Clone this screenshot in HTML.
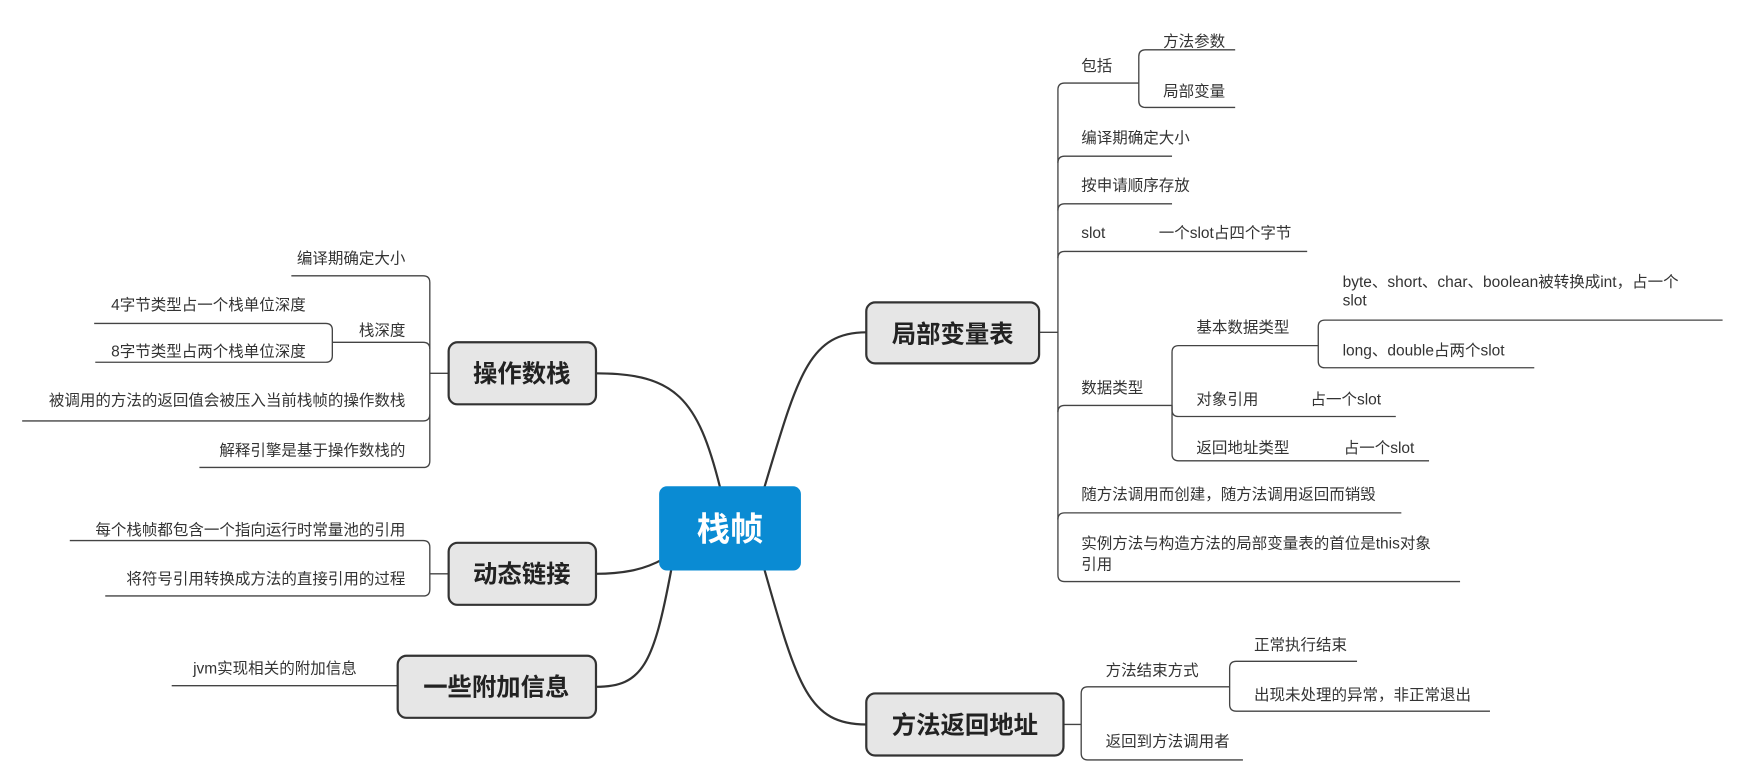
<!DOCTYPE html>
<html><head><meta charset="utf-8"><style>
html,body{margin:0;padding:0;background:#fff;}
svg{display:block;}
svg text{font-family:"Liberation Sans","Noto Sans CJK SC",sans-serif;font-size:14px;fill:#333;}
.t{font-size:22px;font-weight:bold;fill:#222;}
</style></head><body>
<svg width="1737" height="768" viewBox="0 0 1568 693.3" preserveAspectRatio="none" xmlns="http://www.w3.org/2000/svg">
<g fill="none" stroke="#333" stroke-width="2">
<path d="M690 440 C720 340,730 300,782 300"/>
<path d="M690 514 C720 620,730 654,782 654"/>
<path d="M650 440 C630 360,610 337,538 337"/>
<path d="M598 505 C580 515,560 518,538 518"/>
<path d="M606 514 C590 600,580 620,538 620"/>
</g>
<g fill="none" stroke="#444" stroke-width="1.2">
<path d="M938 300 H955"/>
<path d="M1028 75 H961 Q955 75 955 81 V519 Q955 525 961 525 H1318"/>
<path d="M955 147 Q955 141 961 141 H1058"/>
<path d="M955 190 Q955 184 961 184 H1058"/>
<path d="M955 233 Q955 227 961 227 H1180"/>
<path d="M955 372 Q955 366 961 366 H1058"/>
<path d="M955 469 Q955 463 961 463 H1265"/>
<path d="M1115 45 H1034 Q1028 45 1028 51 V91 Q1028 97 1034 97 H1115"/>
<path d="M1190 312 H1064 Q1058 312 1058 318 V410 Q1058 416 1064 416 H1290"/>
<path d="M1058 366 V370 Q1058 376 1064 376 H1260"/>
<path d="M1555 289 H1196 Q1190 289 1190 295 V326 Q1190 332 1196 332 H1385"/>
<path d="M960 654 H976"/>
<path d="M1110 620 H982 Q976 620 976 626 V680 Q976 686 982 686 H1122"/>
<path d="M1225 597 H1116 Q1110 597 1110 603 V636 Q1110 642 1116 642 H1345"/>
<path d="M405 337 H388"/>
<path d="M263 249 H382 Q388 249 388 255 V416 Q388 422 382 422 H180"/>
<path d="M300 309 H382 Q388 309 388 315"/>
<path d="M20 380 H382 Q388 380 388 374"/>
<path d="M85 292 H294 Q300 292 300 298 V321 Q300 327 294 327 H86"/>
<path d="M405 518 H388"/>
<path d="M63 488 H382 Q388 488 388 494 V532 Q388 538 382 538 H95"/>
<path d="M359 619 H155"/>
</g>
<g stroke="#333" stroke-width="2">
<rect x="596" y="440" width="126" height="74" rx="6" fill="#0a8bd3" stroke="#0a8bd3"/>
<rect x="782" y="273" width="156" height="55" rx="8" fill="#e6e6e6"/>
<rect x="782" y="626" width="178" height="56" rx="8" fill="#e6e6e6"/>
<rect x="405" y="309" width="133" height="56" rx="8" fill="#e6e6e6"/>
<rect x="405" y="490" width="133" height="56" rx="8" fill="#e6e6e6"/>
<rect x="359" y="592" width="179" height="56" rx="8" fill="#e6e6e6"/>
</g>
<text x="659" y="488" text-anchor="middle" style="font-size:30px;font-weight:bold;fill:#fff">栈帧</text>
<text class="t" x="860" y="309" text-anchor="middle">局部变量表</text>
<text class="t" x="871" y="662" text-anchor="middle">方法返回地址</text>
<text class="t" x="471" y="345" text-anchor="middle">操作数栈</text>
<text class="t" x="471" y="526" text-anchor="middle">动态链接</text>
<text class="t" x="448" y="628" text-anchor="middle">一些附加信息</text>

<text x="976" y="64">包括</text>
<text x="1050" y="42">方法参数</text>
<text x="1050" y="87">局部变量</text>
<text x="976" y="129">编译期确定大小</text>
<text x="976" y="172">按申请顺序存放</text>
<text x="976" y="215">slot</text>
<text x="1046" y="215">一个slot占四个字节</text>
<text x="976" y="355">数据类型</text>
<text x="1080" y="300">基本数据类型</text>
<text x="1212" y="259">byte、short、char、boolean被转换成int，占一个</text>
<text x="1212" y="276">slot</text>
<text x="1212" y="321">long、double占两个slot</text>
<text x="1080" y="365">对象引用</text>
<text x="1183" y="365">占一个slot</text>
<text x="1080" y="409">返回地址类型</text>
<text x="1213" y="409">占一个slot</text>
<text x="976" y="451">随方法调用而创建，随方法调用返回而销毁</text>
<text x="976" y="495">实例方法与构造方法的局部变量表的首位是this对象</text>
<text x="976" y="514">引用</text>

<text x="998" y="610">方法结束方式</text>
<text x="1132" y="587">正常执行结束</text>
<text x="1132" y="632">出现未处理的异常，非正常退出</text>
<text x="998" y="674">返回到方法调用者</text>

<g text-anchor="end">
<text x="366" y="238">编译期确定大小</text>
<text x="366" y="303">栈深度</text>
<text x="276" y="280">4字节类型占一个栈单位深度</text>
<text x="276" y="322">8字节类型占两个栈单位深度</text>
<text x="366" y="366">被调用的方法的返回值会被压入当前栈帧的操作数栈</text>
<text x="366" y="411">解释引擎是基于操作数栈的</text>
<text x="366" y="483">每个栈帧都包含一个指向运行时常量池的引用</text>
<text x="366" y="527">将符号引用转换成方法的直接引用的过程</text>
<text x="322" y="608">jvm实现相关的附加信息</text>
</g>
</svg>
</body></html>
